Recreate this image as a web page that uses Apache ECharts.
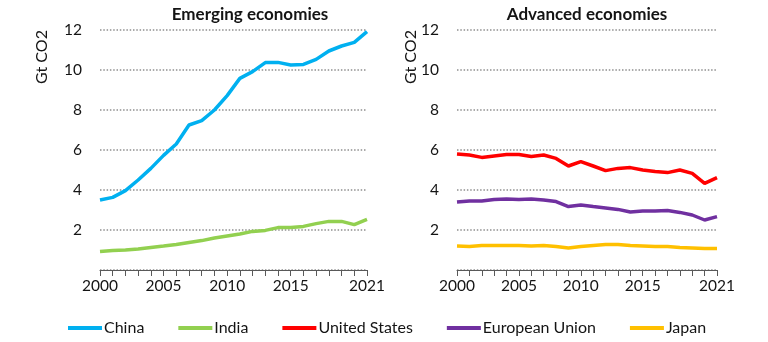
<!DOCTYPE html>
<html>
<head>
<meta charset="utf-8">
<script src="https://cdn.jsdelivr.net/npm/echarts@6/dist/echarts.min.js"></script>
<style>
  html, body { margin: 0; padding: 0; background: #fff; }
  #chart { width: 768px; height: 342px; }
</style>
</head>
<body>
<div id="chart"></div>
<script>
// CO2 emissions, Gt CO2, 2000-2021
const years = ['2000','2001','2002','2003','2004','2005','2006','2007','2008','2009','2010',
               '2011','2012','2013','2014','2015','2016','2017','2018','2019','2020','2021'];
const shownYears = ['2000','2005','2010','2015','2021'];

const china = [3.50,3.63,3.97,4.50,5.08,5.73,6.30,7.25,7.47,8.00,8.72,
               9.58,9.92,10.37,10.38,10.25,10.28,10.53,10.95,11.20,11.38,11.92];
const india = [0.92,0.97,1.00,1.05,1.13,1.20,1.28,1.38,1.47,1.60,1.70,
               1.80,1.93,1.98,2.12,2.13,2.18,2.32,2.43,2.43,2.27,2.53];
const unitedStates = [5.80,5.75,5.63,5.70,5.77,5.78,5.68,5.75,5.58,5.20,5.42,
                      5.20,4.97,5.08,5.12,5.00,4.92,4.87,5.00,4.83,4.33,4.62];
const europeanUnion = [3.40,3.45,3.45,3.53,3.55,3.53,3.55,3.50,3.42,3.17,3.25,
                       3.17,3.10,3.03,2.90,2.95,2.95,2.97,2.88,2.75,2.50,2.67];
const japan = [1.20,1.18,1.22,1.23,1.23,1.23,1.20,1.23,1.17,1.10,1.17,
               1.22,1.27,1.28,1.22,1.20,1.17,1.17,1.13,1.10,1.07,1.08];

const FONT = 'Lato';
const TEXT = '#141414';

const chart = echarts.init(document.getElementById('chart'), null, { renderer: 'canvas' });

function xAxisFor(gridIndex) {
  return {
    type: 'category', gridIndex, data: years, boundaryGap: false,
    axisLine: { lineStyle: { color: '#595959', width: 1 } },
    axisTick: { show: true, interval: 0, length: 6, lineStyle: { color: '#595959' } },
    axisLabel: {
      interval: (i, v) => shownYears.includes(v),
      color: TEXT, fontFamily: FONT, fontSize: 15.5, margin: 8
    },
    splitLine: { show: false }
  };
}
function yAxisFor(gridIndex) {
  return {
    type: 'value', gridIndex, min: 0, max: 12, interval: 2,
    axisLine: { show: false }, axisTick: { show: false },
    axisLabel: { showMinLabel: false, color: TEXT, fontFamily: FONT, fontSize: 15.5, margin: 18 },
    splitLine: { lineStyle: { color: '#8f8f8f', type: [1.5, 1.8], width: 1.5 } }
  };
}
function line(name, data, color, idx) {
  return {
    name, type: 'line', data, xAxisIndex: idx, yAxisIndex: idx,
    symbol: 'none', smooth: false,
    lineStyle: { color, width: 3.5 }, itemStyle: { color }
  };
}

chart.setOption({
  animation: false,
  title: [
    { text: 'Emerging economies', left: 245, top: 1, textAlign: 'center',
      textStyle: { fontFamily: FONT, fontSize: 17, fontWeight: 'bold', color: TEXT } },
    { text: 'Advanced economies', left: 582, top: 1, textAlign: 'center',
      textStyle: { fontFamily: FONT, fontSize: 17, fontWeight: 'bold', color: TEXT } }
  ],
  grid: [
    { left: 100, right: 401, top: 30, bottom: 72 },
    { left: 457, right: 51, top: 30, bottom: 72 }
  ],
  xAxis: [xAxisFor(0), xAxisFor(1)],
  yAxis: [yAxisFor(0), yAxisFor(1)],
  legend: {
    left: 63, top: 315, icon: 'rect', itemWidth: 34, itemHeight: 4, itemGap: 34,
    textStyle: { fontFamily: FONT, fontSize: 16, color: TEXT, padding: [0, 0, 0, -3] },
    data: ['China', 'India', 'United States', 'European Union', 'Japan']
  },
  graphic: [
    { type: 'text', x: 42, y: 57, rotation: Math.PI / 2,
      style: { text: 'Gt CO2', fontFamily: FONT, fontSize: 16, fill: TEXT, align: 'center', verticalAlign: 'middle' } },
    { type: 'text', x: 411, y: 57, rotation: Math.PI / 2,
      style: { text: 'Gt CO2', fontFamily: FONT, fontSize: 16, fill: TEXT, align: 'center', verticalAlign: 'middle' } }
  ],
  series: [
    line('China', china, '#00B0F0', 0),
    line('India', india, '#92D050', 0),
    line('United States', unitedStates, '#FF0000', 1),
    line('European Union', europeanUnion, '#7030A0', 1),
    line('Japan', japan, '#FFC000', 1)
  ]
});
</script>
</body>
</html>
